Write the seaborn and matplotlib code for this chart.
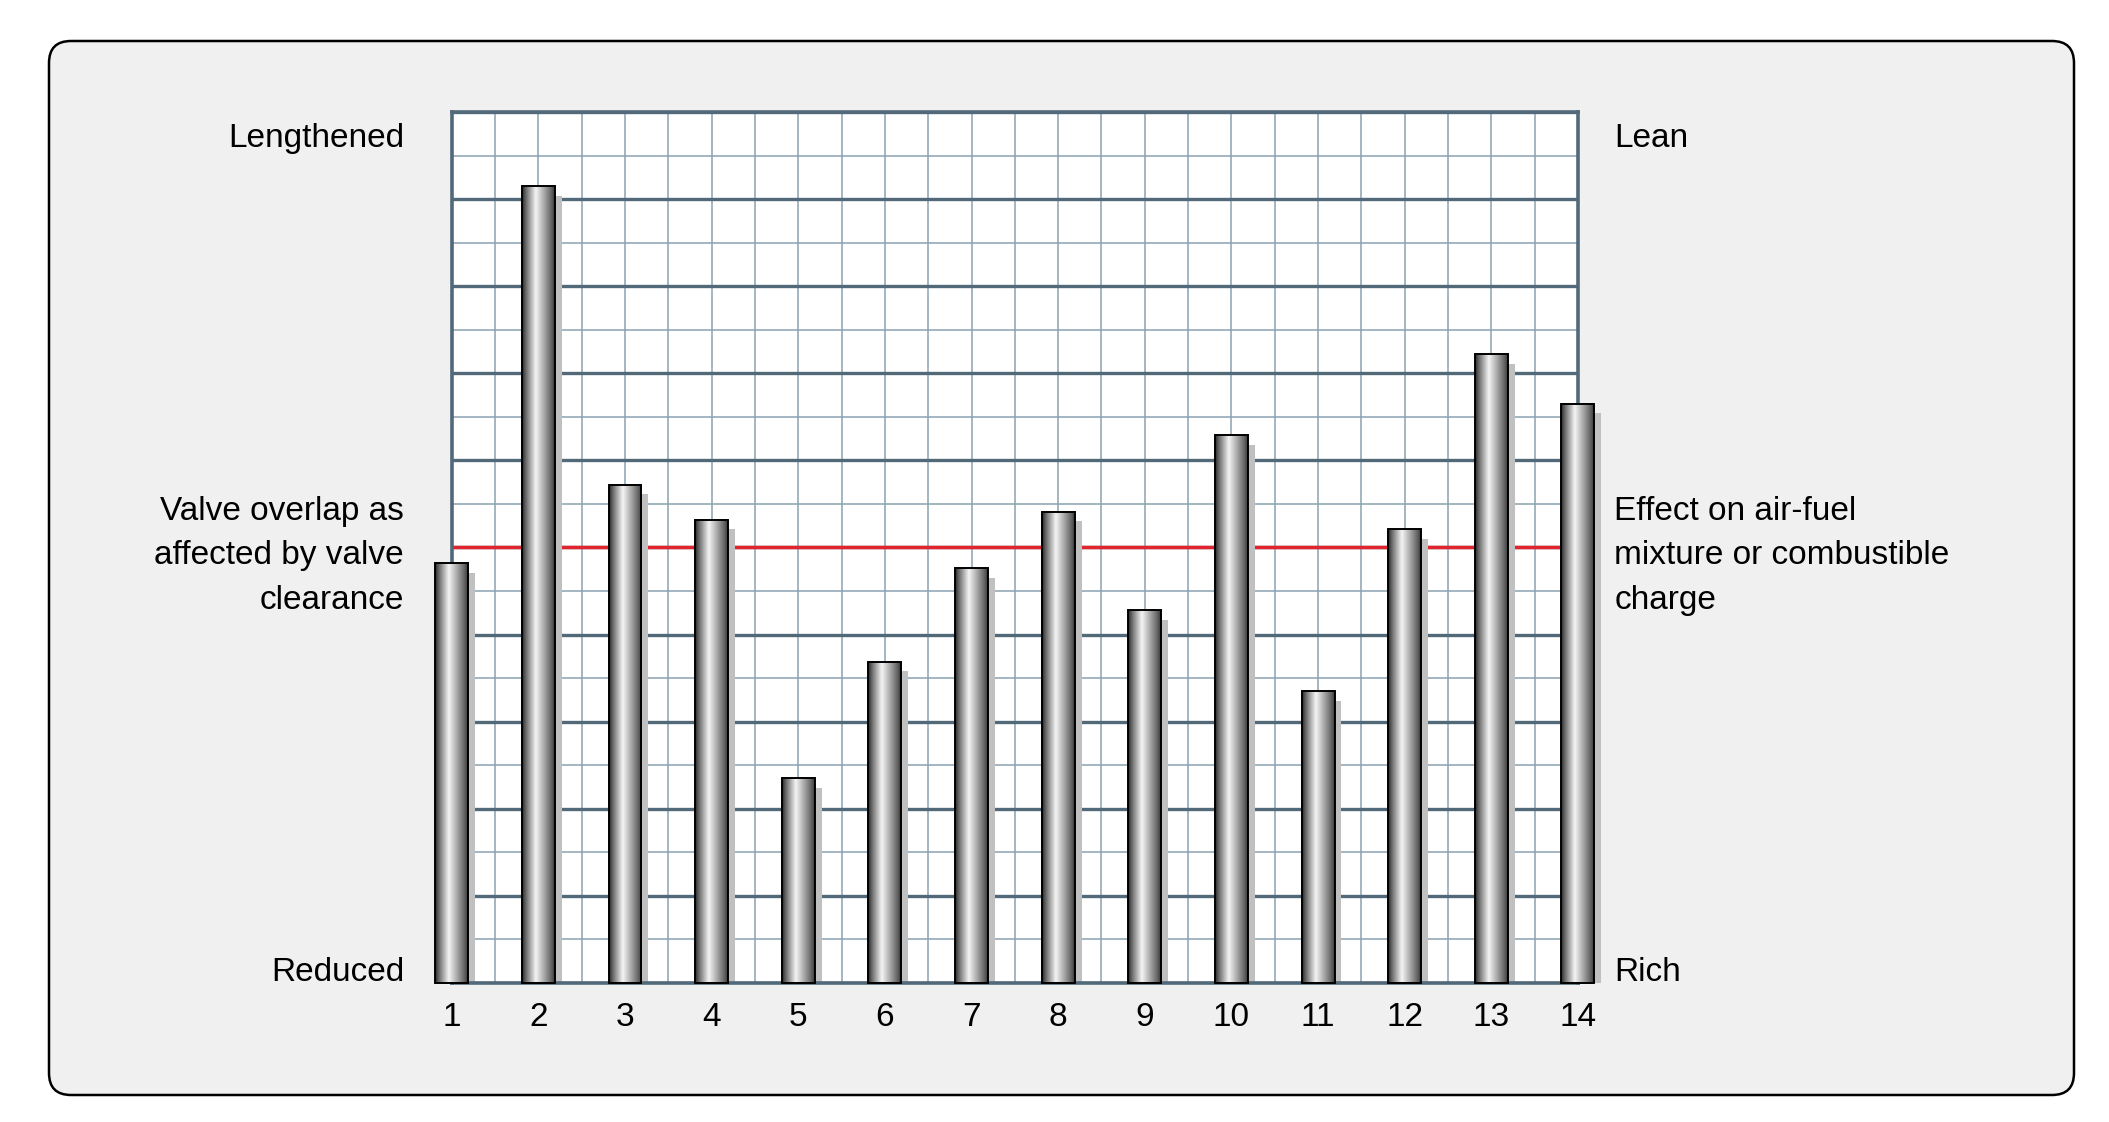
import numpy as np
import matplotlib
matplotlib.use("Agg")
import matplotlib.pyplot as plt
import seaborn as sns
from matplotlib.colors import LinearSegmentedColormap
from matplotlib.patches import FancyBboxPatch
from matplotlib.ticker import MultipleLocator

# Cylinder numbers along the bottom and their bar heights (grid units, 0-10)
cylinders = list(range(1, 15))
heights = [4.82, 9.15, 5.72, 5.32, 2.35, 3.69, 4.76, 5.41, 4.28, 6.29, 3.35, 5.21, 7.22, 6.65]
reference_level = 5.0

left_labels = ["Lengthened", "Valve overlap as\naffected by valve\nclearance", "Reduced"]
right_labels = ["Lean", "Effect on air-fuel\nmixture or combustible\ncharge", "Rich"]

sns.set_style("white")
plt.rcParams["font.family"] = ["Liberation Sans", "DejaVu Sans"]
plt.rcParams["text.color"] = "black"
plt.rcParams["xtick.color"] = "black"

major_col = "#52697a"
minor_col = "#8aa2b0"

fig = plt.figure(figsize=(21.09, 11.22), dpi=100)
fig.patch.set_facecolor("white")

# rounded panel behind the chart
panel = FancyBboxPatch((0.49, 0.27), 20.25, 10.54,
                       boxstyle="round,pad=0,rounding_size=0.22",
                       transform=fig.dpi_scale_trans, facecolor="#f0f0f0",
                       edgecolor="black", linewidth=1.8, zorder=-1)
fig.patches.append(panel)

ax = fig.add_axes([0.2142, 0.1239, 0.5340, 0.7763])
ax.set_facecolor("white")

# shadows behind the bars
ax.bar(np.array(cylinders) + 0.08, np.array(heights) - 0.11, width=0.38,
       color="#c0c0c0", linewidth=0, zorder=2.5, clip_on=False)

# the bars themselves
sns.barplot(x=cylinders, y=heights, native_scale=True, width=0.38,
            color="#999999", edgecolor="black", linewidth=1.4, ax=ax)

cyl_cmap = LinearSegmentedColormap.from_list(
    "cyl", [(0.0, "#262626"), (0.12, "#6a6a6a"), (0.42, "#f5f5f5"),
            (0.7, "#a0a0a0"), (0.9, "#626262"), (1.0, "#363636")])
grad = np.linspace(0, 1, 256).reshape(1, -1)
for p in ax.patches[len(cylinders):]:
    x0, w, h = p.get_x(), p.get_width(), p.get_height()
    ax.imshow(grad, extent=(x0, x0 + w, 0, h), aspect="auto", cmap=cyl_cmap,
              zorder=3, clip_on=False, interpolation="bilinear")
    p.set_facecolor("none")
    p.set_zorder(4)
    p.set_clip_on(False)

ax.axhline(reference_level, color="#e0252f", linewidth=2.5, zorder=2)

ax.set_xlim(1, 14)
ax.set_ylim(0, 10)
ax.set_aspect("auto")

ax.xaxis.set_major_locator(MultipleLocator(1))
ax.xaxis.set_minor_locator(MultipleLocator(0.5))
ax.yaxis.set_major_locator(MultipleLocator(1))
ax.yaxis.set_minor_locator(MultipleLocator(0.5))
ax.grid(which="major", axis="y", color=major_col, linewidth=2.4, zorder=1)
ax.grid(which="minor", axis="y", color=minor_col, linewidth=1.1, zorder=1)
ax.grid(which="both", axis="x", color=minor_col, linewidth=1.1, zorder=1)
ax.set_axisbelow(True)

ax.set_xticks(cylinders)
ax.set_xticklabels([str(c) for c in cylinders], fontsize=24)
ax.tick_params(which="both", length=0, pad=14, labelleft=False)
ax.set_xlabel("")
ax.set_ylabel("")
for s in ax.spines.values():
    s.set_color(major_col)
    s.set_linewidth(2.6)

ys = [0.877, 0.5045, 0.1328]
for lab, y in zip(left_labels, ys):
    fig.text(0.1916, y, lab, ha="right", va="center", fontsize=24, linespacing=1.55)
for lab, y in zip(right_labels, ys):
    fig.text(0.7655, y, lab, ha="left", va="center", fontsize=24, linespacing=1.55)

fig.savefig("out.png", dpi=100)
